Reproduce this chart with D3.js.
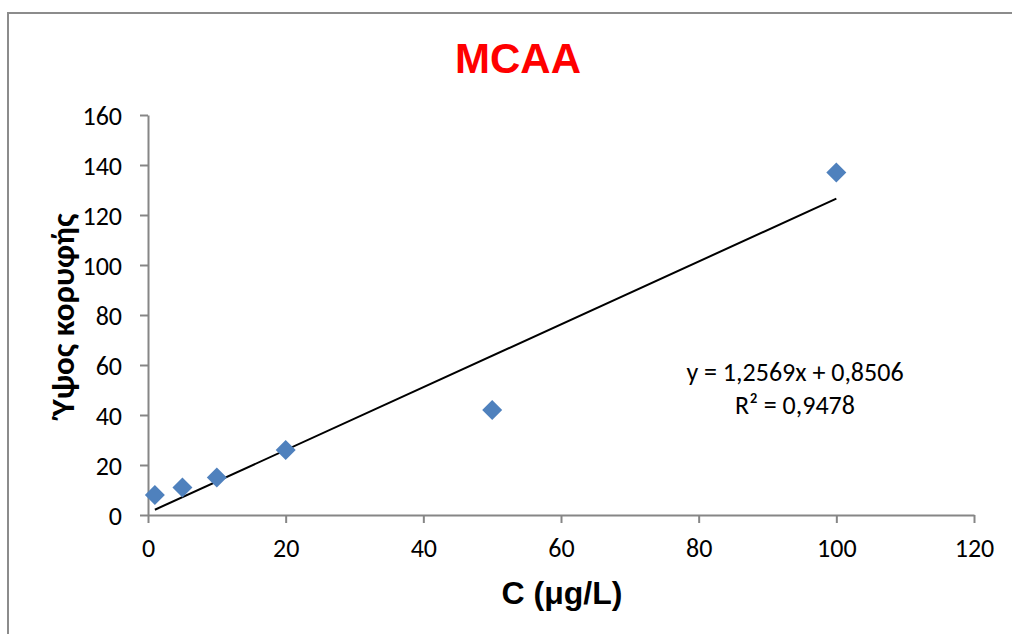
<!DOCTYPE html>
<html>
<head>
<meta charset="utf-8">
<script src="https://cdn.jsdelivr.net/npm/d3@7"></script>
<style>
  body { margin: 0; background: #fff; }
  svg { display: block; }
  .tick text { font-family: Carlito, Lato, "Open Sans", sans-serif; font-size: 26px; fill: #000; }
</style>
</head>
<body>
<div id="chart"></div>
<script>
// data
const concentrations = [1, 5, 10, 20, 50, 100];
const peakHeights = [8, 11, 15, 26, 42, 137];
const xTicks = [0, 20, 40, 60, 80, 100, 120];
const yTicks = [0, 20, 40, 60, 80, 100, 120, 140, 160];
const slope = 1.2569;
const intercept = 0.8506;
const eqLines = ['y = 1,2569x + 0,8506', 'R² = 0,9478'];

const W = 1012, H = 634;
const margin = { top: 115, right: 38, bottom: 119, left: 148 };
const width = W - margin.left - margin.right;
const height = H - margin.top - margin.bottom;

const svg = d3.select('#chart').append('svg')
  .attr('width', W)
  .attr('height', H);

// outer chart border (cut off at right/bottom like the original)
svg.append('rect')
  .attr('x', 8).attr('y', 13)
  .attr('width', 1200).attr('height', 1000)
  .attr('fill', 'none')
  .attr('stroke', '#8c8c8c')
  .attr('stroke-width', 2);

const g = svg.append('g')
  .attr('transform', `translate(${margin.left},${margin.top})`);

const x = d3.scaleLinear().domain([0, 120]).range([0, width]);
const y = d3.scaleLinear().domain([0, 160]).range([height, 0]);

// axes
const xAxis = g.append('g')
  .attr('transform', `translate(0,${height})`)
  .call(d3.axisBottom(x).tickValues(xTicks).tickSize(8).tickSizeOuter(0).tickPadding(16));
const yAxis = g.append('g')
  .call(d3.axisLeft(y).tickValues(yTicks).tickSize(8).tickSizeOuter(0).tickPadding(18));

[xAxis, yAxis].forEach(ax => {
  ax.select('.domain').attr('stroke', '#868686').attr('stroke-width', 2);
  ax.selectAll('.tick line').attr('stroke', '#868686').attr('stroke-width', 2);
});
yAxis.selectAll('.tick text').attr('dy', '0.36em');

// trendline
const xMin = d3.min(concentrations), xMax = d3.max(concentrations);
g.append('line')
  .attr('x1', x(xMin)).attr('y1', y(slope * xMin + intercept))
  .attr('x2', x(xMax)).attr('y2', y(slope * xMax + intercept))
  .attr('stroke', '#000')
  .attr('stroke-width', 2);

// diamond markers
const pts = concentrations.map((c, i) => ({ c, h: peakHeights[i] }));
g.selectAll('.pt')
  .data(pts)
  .join('path')
  .attr('class', 'pt')
  .attr('transform', d => `translate(${x(d.c)},${y(d.h)})`)
  .attr('d', 'M0,-10L10,0L0,10L-10,0Z')
  .attr('fill', '#4f81bd');

// equation label
svg.append('text')
  .attr('x', 795).attr('y', 381)
  .attr('text-anchor', 'middle')
  .style('font-family', 'Carlito, Lato, "Open Sans", sans-serif')
  .style('font-size', '26px')
  .selectAll('tspan')
  .data(eqLines)
  .join('tspan')
  .attr('x', 795)
  .attr('dy', (d, i) => i === 0 ? 0 : 33)
  .text(d => d);

// title
svg.append('text')
  .attr('x', 518).attr('y', 73)
  .attr('text-anchor', 'middle')
  .style('font-family', '"Liberation Sans", Arial, sans-serif')
  .style('font-weight', 'bold')
  .style('font-size', '42px')
  .style('fill', '#ff0000')
  .text('MCAA');

// x axis title
svg.append('text')
  .attr('x', 562).attr('y', 604)
  .attr('text-anchor', 'middle')
  .style('font-family', '"Liberation Sans", Arial, sans-serif')
  .style('font-weight', 'bold')
  .style('font-size', '32px')
  .text('C (μg/L)');

// y axis title
svg.append('text')
  .attr('transform', 'translate(74,315) rotate(-90)')
  .attr('text-anchor', 'middle')
  .style('font-family', 'Carlito, "Open Sans", "Noto Sans", sans-serif')
  .style('font-weight', 'bold')
  .style('font-size', '33px')
  .text('Ύψος κορυφής');
</script>
</body>
</html>
